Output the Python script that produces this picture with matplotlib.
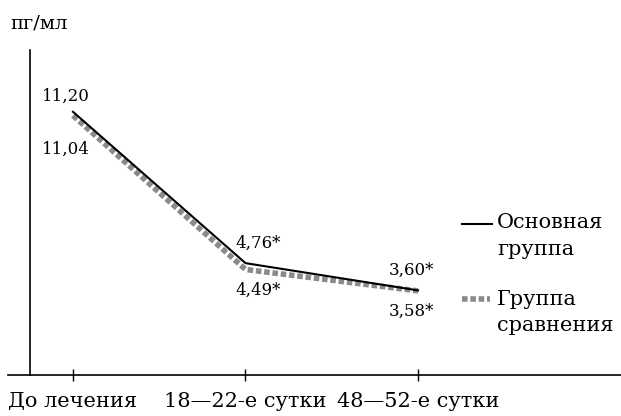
import matplotlib
matplotlib.use('Agg')
import matplotlib.pyplot as plt
from matplotlib.lines import Line2D

# Data
periods = ['До лечения', '18\u201422-е сутки', '48\u201452-е сутки']
main_group = [11.20, 4.76, 3.60]
compare_group = [11.04, 4.49, 3.58]
main_labels = ['11,20', '4,76*', '3,60*']
compare_labels = ['11,04', '4,49*', '3,58*']
series_names = ['Основная\nгруппа', 'Группа\nсравнения']
unit = 'пг/мл'

plt.rcParams['font.family'] = ['DejaVu Serif']

W, H = 621, 416
fig = plt.figure(figsize=(W / 100, H / 100), dpi=100)

# axes span from x=8px to right edge, bottom at y=375px, top at 50px
ax = fig.add_axes([8 / W, 1 - 375 / H, 1 - 8 / W, (375 - 50) / H])
px_per_x = 172.5
x0 = -65 / px_per_x
ax.set_xlim(x0, x0 + (W - 8) / px_per_x)
ax.set_ylim(0, 13.83)

gray = '#8a8a8a'
dots = (0, (1.0, 0.5))
xs = range(len(periods))
ax.plot(xs, compare_group, color=gray, lw=4, ls=dots,
        solid_capstyle='butt', dash_capstyle='butt', zorder=2)
ax.plot(xs, main_group, color='black', lw=1.5, zorder=3)

# value labels
main_off = [(-7, 15), (13, 20), (-7, 20)]
comp_off = [(-7, -34), (13, -21), (-7, -20)]
for i in xs:
    ax.annotate(main_labels[i], (i, main_group[i]), xytext=main_off[i],
                textcoords='offset pixels', ha='center', va='center', fontsize=12)
    ax.annotate(compare_labels[i], (i, compare_group[i]), xytext=comp_off[i],
                textcoords='offset pixels', ha='center', va='center', fontsize=12)

# y axis line (no ticks)
yx = x0 + 22 / px_per_x
ax.plot([yx, yx], [0, 13.83], color='black', lw=1.2, clip_on=False)

for s in ['top', 'right', 'left']:
    ax.spines[s].set_visible(False)
ax.spines['bottom'].set_linewidth(1.2)
ax.set_yticks([])
ax.set_xticks(list(xs))
ax.set_xticklabels(periods, fontsize=15)
ax.tick_params(axis='x', direction='inout', length=8, width=1, pad=8)

fig.text(10 / W, 1 - 23 / H, unit, fontsize=14, va='center', ha='left')

# legend drawn by hand
fig.add_artist(Line2D([462 / W, 492 / W], [1 - 224 / H] * 2, color='black', lw=1.5))
fig.add_artist(Line2D([462 / W, 490 / W], [1 - 299 / H] * 2, color=gray, lw=4,
                      ls=dots, dash_capstyle='butt'))
fig.text(497 / W, 1 - 213 / H, series_names[0], fontsize=15, va='top', ha='left',
         linespacing=1.55)
fig.text(497 / W, 1 - 290 / H, series_names[1], fontsize=15, va='top', ha='left',
         linespacing=1.45)

fig.savefig('out.png', dpi=100)
